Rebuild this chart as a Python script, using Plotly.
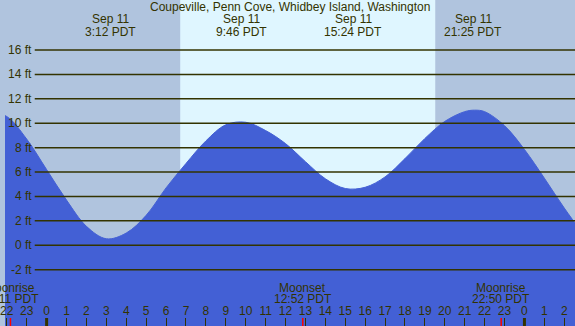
import plotly.graph_objects as go

# ---- data ----
tide_hours = [-3, -2, -1, 0, 1, 2, 3, 4, 5, 6, 7, 8, 9, 10, 11, 12, 13, 14, 15,
              16, 17, 18, 19, 20, 21, 21.5, 22, 23, 24, 25, 26, 27]
tide_ft = [11.0, 10.55, 8.7, 6.2, 3.7, 1.55, 0.53, 1.0, 2.45, 4.7, 6.7, 8.55, 9.87, 10.08,
           9.4, 8.33, 6.85, 5.45, 4.65, 4.75, 5.6, 7.1, 8.75, 10.15, 10.95, 11.07, 10.95,
           9.8, 7.85, 5.5, 3.05, 0.8]

event_hours = [-3.17, 3.2, 9.767, 15.4, 21.417]
event_dates = ["Sep 10", "Sep 11", "Sep 11", "Sep 11", "Sep 11"]
event_times = ["20:50 PDT", "3:12 PDT", "9:46 PDT", "15:24 PDT", "21:25 PDT"]

moon_hours = [-1.817, 12.867, 22.833]
moon_names = ["Moonrise", "Moonset", "Moonrise"]
moon_times = ["22:11 PDT", "12:52 PDT", "22:50 PDT"]

sunrise_hour = 6.71
sunset_hour = 19.52
midnight_hours = [0, 24]

y_ticks = [-2, 0, 2, 4, 6, 8, 10, 12, 14, 16]
x_tick_hours = list(range(-2, 27))
x_tick_text = [str(h % 24) for h in x_tick_hours]

title = "Coupeville, Penn Cove, Whidbey Island, Washington"

X_RANGE = [-2.09, 26.54]
Y_RANGE = [-6.62, 20.1]
FLOOR = -10

# ---- style ----
NIGHT = "#b0c4de"
DAY = "#dff6ff"
WATER = "#4360d5"
INK = "#333300"
FONT = "Liberation Sans, Arial, sans-serif"
W, H = 575, 326

fig = go.Figure()
fig.add_trace(go.Scatter(x=[X_RANGE[0] - 2, X_RANGE[1] + 2], y=[FLOOR, FLOOR], mode="lines",
                         line=dict(width=0), hoverinfo="skip", showlegend=False))
fig.add_trace(go.Scatter(x=tide_hours, y=tide_ft, mode="lines", fill="tonexty",
                         fillcolor=WATER, line=dict(color=WATER, width=1, shape="spline", smoothing=1),
                         showlegend=False))

shapes = []
shapes.append(dict(type="rect", xref="x", yref="paper", x0=sunrise_hour, x1=sunset_hour,
                   y0=0, y1=1, fillcolor=DAY, line=dict(width=0), layer="below"))
for v in y_ticks:
    shapes.append(dict(type="line", xref="paper", yref="y", x0=30 / W, x1=1, y0=v, y1=v,
                       line=dict(color=INK, width=1.5), layer="above"))
for h in midnight_hours:
    shapes.append(dict(type="line", xref="x", yref="paper", x0=h, x1=h, y0=0, y1=8 / H,
                       line=dict(color=INK, width=3), layer="above"))
for h in moon_hours:
    shapes.append(dict(type="line", xref="x", yref="paper", x0=h, x1=h, y0=0, y1=8 / H,
                       line=dict(color="red", width=1.5), layer="above"))

ann = []
ann.append(dict(text=title, xref="paper", yref="paper", x=287 / W, y=1 - 7 / H,
                xanchor="center", yanchor="middle", showarrow=False,
                font=dict(family=FONT, size=12, color=INK)))
for h, d, t in zip(event_hours, event_dates, event_times):
    ann.append(dict(text=d, xref="x", yref="paper", x=h, y=1 - 19 / H, xanchor="center",
                    yanchor="middle", showarrow=False, font=dict(family=FONT, size=12, color=INK)))
    ann.append(dict(text=t, xref="x", yref="paper", x=h, y=1 - 31.5 / H, xanchor="center",
                    yanchor="middle", showarrow=False, font=dict(family=FONT, size=12, color=INK)))
for h, n, t in zip(moon_hours, moon_names, moon_times):
    ann.append(dict(text=n, xref="x", yref="paper", x=h, y=1 - 288 / H, xanchor="center",
                    yanchor="middle", showarrow=False, font=dict(family=FONT, size=12, color=INK)))
    ann.append(dict(text=t, xref="x", yref="paper", x=h, y=1 - 299 / H, xanchor="center",
                    yanchor="middle", showarrow=False, font=dict(family=FONT, size=12, color=INK)))
for v in y_ticks:
    ann.append(dict(text=f"{v} ft", xref="paper", yref="y", x=29 / W, y=v, xanchor="right",
                    yanchor="middle", showarrow=False, font=dict(family=FONT, size=12, color=INK)))

fig.update_layout(
    width=W, height=H, margin=dict(l=0, r=0, t=0, b=0),
    paper_bgcolor=NIGHT, plot_bgcolor=NIGHT,
    shapes=shapes, annotations=ann, showlegend=False,
    xaxis=dict(range=X_RANGE, showgrid=False, zeroline=False, showline=False,
               tickvals=x_tick_hours, ticktext=x_tick_text, ticks="inside", ticklen=8,
               tickcolor=INK, tickwidth=1, ticklabelposition="inside", ticklabeloverflow="allow",
               tickfont=dict(family=FONT, size=12, color=INK), fixedrange=True),
    yaxis=dict(range=Y_RANGE, showgrid=False, zeroline=False, showline=False,
               showticklabels=False, ticks="", fixedrange=True),
)

fig.write_html("out.html", config={"displayModeBar": False},
               post_script="document.body.style.margin='0';document.body.style.overflow='hidden';")
